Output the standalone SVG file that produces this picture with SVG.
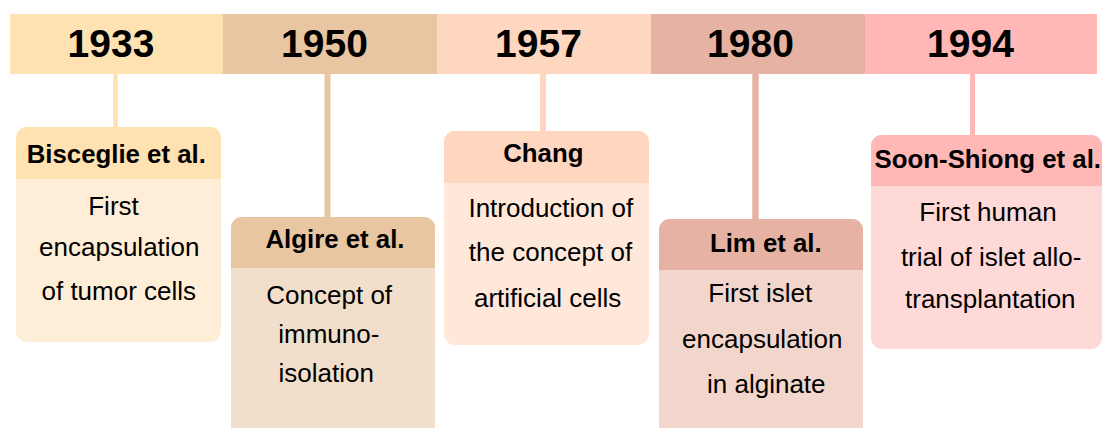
<svg xmlns="http://www.w3.org/2000/svg" width="1103" height="428" viewBox="0 0 1103 428">
<style>
.yr{font-family:"Liberation Sans",Arial,sans-serif;font-weight:bold;font-size:39px;fill:#000;text-anchor:middle}
.hd{font-family:"Liberation Sans",Arial,sans-serif;font-weight:bold;font-size:25.8px;fill:#000;text-anchor:middle}
.bd{font-family:"Liberation Sans",Arial,sans-serif;font-size:26px;fill:#000;text-anchor:middle}
</style>
<rect width="1103" height="428" fill="#ffffff"/>
<g id="timeline">
<rect x="10" y="14" width="213.5" height="60" fill="#FFE2B1"/>
<rect x="223" y="14" width="214.5" height="60" fill="#E8C6A1"/>
<rect x="437" y="14" width="214.5" height="60" fill="#FFD6C0"/>
<rect x="651" y="14" width="214.5" height="60" fill="#E6B2A3"/>
<rect x="865" y="14" width="232" height="60" fill="#FFB8B6"/>
<text class="yr" x="111" y="57">1933</text>
<text class="yr" x="324.5" y="57">1950</text>
<text class="yr" x="538.5" y="57">1957</text>
<text class="yr" x="750.5" y="57">1980</text>
<text class="yr" x="970.5" y="57">1994</text>
</g>
<g id="connectors">
<line x1="115.5" y1="74" x2="115.5" y2="128" stroke="#FFE2B1" stroke-width="4.5"/>
<line x1="327.5" y1="74" x2="327.5" y2="218" stroke="#E8C6A1" stroke-width="6"/>
<line x1="543" y1="74" x2="543" y2="132" stroke="#FFD6C0" stroke-width="6"/>
<line x1="755.5" y1="74" x2="755.5" y2="220" stroke="#E6B2A3" stroke-width="6.5"/>
<line x1="972.5" y1="74" x2="972.5" y2="136" stroke="#FFB8B6" stroke-width="5"/>
</g>
<g id="node-bisceglie">
<rect x="16" y="127" width="205" height="215" rx="11" fill="#FFEED7"/>
<path d="M16 179 V138 A11 11 0 0 1 27 127 H210 A11 11 0 0 1 221 138 V179 Z" fill="#FFE2B1"/>
<text class="hd" x="116.3" y="162.5">Bisceglie et al.</text>
<text class="bd" x="113.5" y="214.5">First</text>
<text class="bd" x="119.3" y="256">encapsulation</text>
<text class="bd" x="118.8" y="300">of tumor cells</text>
</g>
<g id="node-algire">
<rect x="231" y="217" width="204" height="220" rx="11" fill="#F2DFCB"/>
<path d="M231 268 V228 A11 11 0 0 1 242 217 H424 A11 11 0 0 1 435 228 V268 Z" fill="#E8C6A1"/>
<text class="hd" x="335" y="248.3">Algire et al.</text>
<text class="bd" x="329.2" y="303.5">Concept of</text>
<text class="bd" x="328.8" y="342.5">immuno-</text>
<text class="bd" x="326.3" y="381.7">isolation</text>
</g>
<g id="node-chang">
<rect x="444" y="131" width="205" height="214" rx="11" fill="#FFE8DA"/>
<path d="M444 183 V142 A11 11 0 0 1 455 131 H638 A11 11 0 0 1 649 142 V183 Z" fill="#FFD6C0"/>
<text class="hd" x="543.3" y="161.7">Chang</text>
<text class="bd" x="550.8" y="216.7">Introduction of</text>
<text class="bd" x="550.5" y="260.7">the concept of</text>
<text class="bd" x="547.7" y="306.7">artificial cells</text>
</g>
<g id="node-lim">
<rect x="659" y="219" width="204" height="218" rx="11" fill="#F2D6CC"/>
<path d="M659 270 V230 A11 11 0 0 1 670 219 H852 A11 11 0 0 1 863 230 V270 Z" fill="#E6B2A3"/>
<text class="hd" x="765.8" y="251.7">Lim et al.</text>
<text class="bd" x="760.3" y="302.3">First islet</text>
<text class="bd" x="762.3" y="348.3">encapsulation</text>
<text class="bd" x="766.3" y="393.3">in alginate</text>
</g>
<g id="node-soon-shiong">
<rect x="871" y="135" width="231" height="214" rx="11" fill="#FFD9D8"/>
<path d="M871 186 V146 A11 11 0 0 1 882 135 H1091 A11 11 0 0 1 1102 146 V186 Z" fill="#FFB8B6"/>
<text class="hd" x="987.8" y="168.3">Soon-Shiong et al.</text>
<text class="bd" x="988" y="221">First human</text>
<text class="bd" x="991.2" y="265.7">trial of islet allo-</text>
<text class="bd" x="990.3" y="308.3">transplantation</text>
</g>
</svg>
